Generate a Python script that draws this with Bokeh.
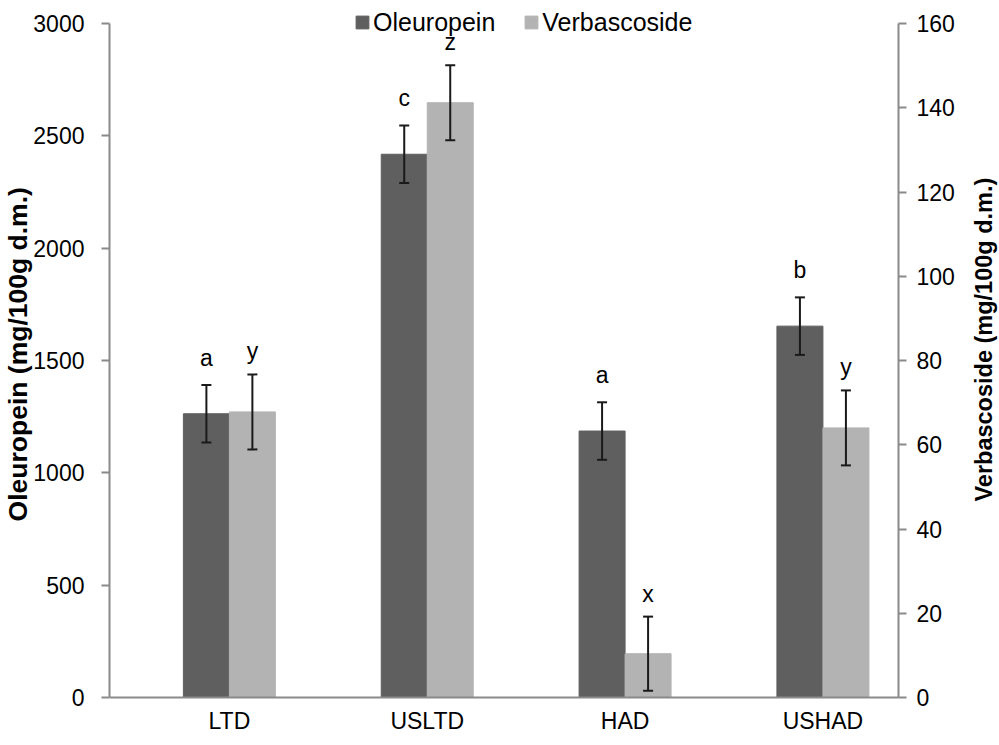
from bokeh.plotting import figure
from bokeh.models import (Range1d, LinearAxis, FixedTicker, ColumnDataSource,
                          Whisker, TeeHead, Legend, LegendItem, Label)
from bokeh.core.properties import value
from bokeh.embed import file_html
from bokeh.resources import INLINE

categories = ["LTD", "USLTD", "HAD", "USHAD"]
oleuropein = [1263, 2418, 1186, 1653]
oleuropein_err = [128, 128, 128, 128]
verbascoside = [67.8, 141.2, 10.4, 64.0]
verbascoside_err = [8.9, 8.9, 8.8, 8.9]
ole_letters = ["a", "c", "a", "b"]
ver_letters = ["y", "z", "x", "y"]
left_ticks = [0, 500, 1000, 1500, 2000, 2500, 3000]
right_ticks = [0, 20, 40, 60, 80, 100, 120, 140, 160]
left_title = "Oleuropein (mg/100g d.m.)"
right_title = "Verbascoside (mg/100g d.m.)"
LEFT_MAX, RIGHT_MAX = 3000, 160

DARK = "#5f5f5f"
LIGHT = "#b3b3b3"
FONT = "Liberation Sans"
BW = 0.2325
X0, X1 = -0.606, 3.382
idx = list(range(len(categories)))

# layout (pixels): the frame covers the figure to the top, right and bottom edges so
# that the legend, the right axis and its title (drawn inside the frame) are not clipped
W, H = 998, 737
FRAME_LEFT, RIGHT_AXIS_PX = 109, 898
AXIS_TOP_PX, AXIS_BOTTOM_PX = 23, 697
PPU_L = (AXIS_BOTTOM_PX - AXIS_TOP_PX) / LEFT_MAX
PPU_R = (AXIS_BOTTOM_PX - AXIS_TOP_PX) / RIGHT_MAX
X_END = X0 + (W - FRAME_LEFT) * (X1 - X0) / (RIGHT_AXIS_PX - FRAME_LEFT)

p = figure(width=W, height=H, output_backend="svg", toolbar_location=None,
           x_range=Range1d(X0, X_END),
           y_range=Range1d(-(H - AXIS_BOTTOM_PX) / PPU_L, LEFT_MAX + AXIS_TOP_PX / PPU_L),
           min_border_left=FRAME_LEFT, min_border_right=0, min_border_top=0,
           min_border_bottom=0)
p.extra_y_ranges = {"right": Range1d(-(H - AXIS_BOTTOM_PX) / PPU_R,
                                     RIGHT_MAX + AXIS_TOP_PX / PPU_R)}
p.outline_line_color = None
p.xgrid.visible = False
p.ygrid.visible = False
p.background_fill_color = "white"

ole_src = ColumnDataSource(dict(
    x=[i - BW / 2 for i in idx], top=oleuropein,
    upper=[v + e for v, e in zip(oleuropein, oleuropein_err)],
    lower=[v - e for v, e in zip(oleuropein, oleuropein_err)],
    lab=ole_letters))
ver_src = ColumnDataSource(dict(
    x=[i + BW / 2 for i in idx], top=verbascoside,
    upper=[v + e for v, e in zip(verbascoside, verbascoside_err)],
    lower=[v - e for v, e in zip(verbascoside, verbascoside_err)],
    lab=ver_letters))

r1 = p.vbar(x="x", top="top", bottom=0, width=BW, source=ole_src,
            fill_color=DARK, line_color=DARK)
r2 = p.vbar(x="x", top="top", bottom=0, width=BW, source=ver_src,
            fill_color=LIGHT, line_color=LIGHT, y_range_name="right")

for src, rng in ((ole_src, "default"), (ver_src, "right")):
    w = Whisker(base="x", upper="upper", lower="lower", source=src,
                line_color="#1a1a1a", line_width=2, level="annotation",
                upper_head=TeeHead(size=10, line_color="#1a1a1a", line_width=2),
                lower_head=TeeHead(size=10, line_color="#1a1a1a", line_width=2))
    w.y_range_name = rng
    p.add_layout(w)

p.text(x="x", y="upper", text="lab", source=ole_src, text_align="center",
       text_baseline="alphabetic", y_offset=-27, text_font=value(FONT),
       text_font_size="23px", text_color="black")
p.text(x="x", y="upper", text="lab", source=ver_src, text_align="center",
       text_baseline="alphabetic", y_offset=-23, text_font=value(FONT),
       text_font_size="23px", text_color="black", y_range_name="right")

AXC = "#8a8a8a"

# x axis, pinned at zero
xa = p.xaxis[0]
xa.fixed_location = 0
xa.ticker = FixedTicker(ticks=idx)
xa.bounds = (X0, X1)
xa.major_label_overrides = {i: c for i, c in zip(idx, categories)}
xa.major_tick_out = 0
xa.major_tick_in = 0
xa.minor_tick_out = 0
xa.minor_tick_in = 0
xa.axis_line_color = AXC
xa.axis_line_width = 2
xa.major_label_text_font = FONT
xa.major_label_text_font_size = "23px"
xa.major_label_text_color = "black"
xa.major_label_standoff = 10

NB = "\u00a0"

# left axis
ya = p.yaxis[0]
ya.ticker = FixedTicker(ticks=left_ticks)
ya.bounds = (0, LEFT_MAX)
ya.axis_label = NB * 4 + left_title
ya.axis_label_text_font = FONT
ya.axis_label_text_font_size = "26.5px"
ya.axis_label_text_font_style = "bold"
ya.axis_label_text_color = "black"
ya.axis_label_standoff = -3
ya.major_label_text_font = FONT
ya.major_label_text_font_size = "23px"
ya.major_label_text_color = "black"
ya.major_label_standoff = 17
ya.axis_line_color = AXC
ya.axis_line_width = 2
ya.major_tick_line_color = AXC
ya.major_tick_line_width = 2
ya.major_tick_out = 8
ya.major_tick_in = 0
ya.minor_tick_out = 0
ya.minor_tick_in = 0

# right axis, pinned at the right end of the categories
ra = LinearAxis(y_range_name="right", ticker=FixedTicker(ticks=right_ticks),
                fixed_location=X1)
ra.bounds = (0, RIGHT_MAX)
ra.major_label_text_font = FONT
ra.major_label_text_font_size = "23px"
ra.major_label_text_color = "black"
ra.major_label_standoff = 10
ra.axis_line_color = AXC
ra.axis_line_width = 2
ra.major_tick_line_color = AXC
ra.major_tick_line_width = 2
ra.major_tick_out = 8
ra.major_tick_in = 0
ra.minor_tick_out = 0
ra.minor_tick_in = 0
p.add_layout(ra, "right")

p.add_layout(Label(x=X1, y=RIGHT_MAX * 0.531, y_range_name="right", x_offset=85,
                   text=right_title, angle=90, angle_units="deg",
                   text_align="center", text_baseline="middle",
                   text_font=FONT, text_font_size="23.5px",
                   text_font_style="bold", text_color="black"))

legend = Legend(items=[LegendItem(label="Oleuropein", renderers=[r1]),
                       LegendItem(label="Verbascoside", renderers=[r2])],
                orientation="horizontal",
                location=(245, H - AXIS_BOTTOM_PX + 660),
                glyph_width=16, glyph_height=16, label_standoff=3,
                label_height=30, spacing=28, padding=0, margin=0,
                label_text_font=FONT, label_text_font_size="25px",
                label_text_color="black",
                border_line_color=None, background_fill_alpha=0)
p.add_layout(legend, "center")

open("out.html", "w").write(file_html(p, INLINE))
